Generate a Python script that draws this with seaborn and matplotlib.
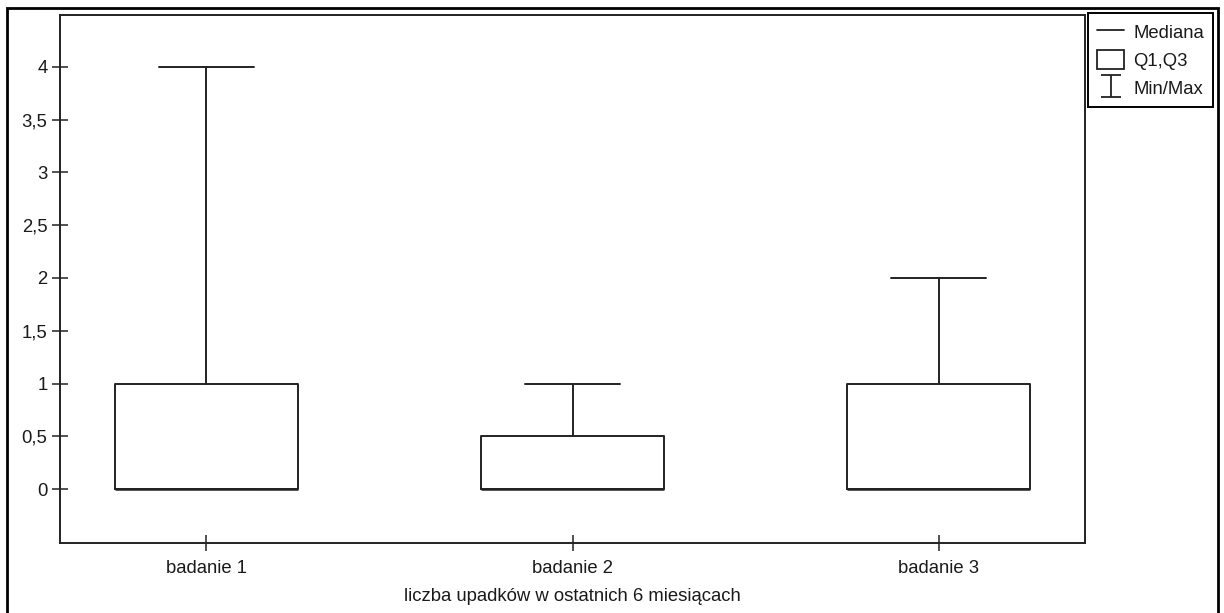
import numpy as np
import matplotlib
matplotlib.use("Agg")
import matplotlib.pyplot as plt
from matplotlib.lines import Line2D
from matplotlib.patches import Rectangle
from matplotlib.path import Path
from matplotlib.ticker import FuncFormatter
import seaborn as sns

# Summary statistics of the number of falls per examination
categories = ["badanie 1", "badanie 2", "badanie 3"]
mins = [0, 0, 0]
q1s = [0, 0, 0]
medians = [0, 0, 0]
q3s = [1, 0.5, 1]
maxs = [4, 1, 2]
y_ticks = [0, 0.5, 1, 1.5, 2, 2.5, 3, 3.5, 4]
x_label = "liczba upadków w ostatnich 6 miesiącach"
legend_labels = ["Mediana", "Q1,Q3", "Min/Max"]

sns.set_theme(style="white")
plt.rcParams["font.family"] = ["Liberation Sans", "DejaVu Sans"]

ink = "#222222"
txt = "#1a1a1a"
fs = 13.3
W, H = 1224, 613
fig = plt.figure(figsize=(W / 100, H / 100), dpi=100)
ax = fig.add_axes([60 / W, 1 - 543 / H, (1085 - 60) / W, (543 - 15) / H])

stats = [
    dict(label=c, whislo=lo, q1=a, med=m, q3=b, whishi=hi, fliers=[])
    for c, lo, a, m, b, hi in zip(categories, mins, q1s, medians, q3s, maxs)
]
ax.bxp(
    stats,
    positions=np.arange(len(categories)),
    widths=0.5,
    showfliers=False,
    patch_artist=False,
    boxprops=dict(color=ink, linewidth=1.4),
    medianprops=dict(color=ink, linewidth=1.8),
    whiskerprops=dict(color=ink, linewidth=1.4),
    capprops=dict(color=ink, linewidth=1.4),
    capwidths=0.26,
)

ax.set_xlim(-0.4, 2.4)
ax.set_ylim(-0.51, 4.49)
ax.set_xticks(np.arange(len(categories)))
ax.set_xticklabels(categories)
ax.set_yticks(y_ticks)
ax.yaxis.set_major_formatter(
    FuncFormatter(lambda v, _: (f"{v:g}").replace(".", ","))
)
ax.tick_params(axis="both", which="major", bottom=True, left=True,
               direction="inout", length=11, width=1.1, color=ink,
               labelsize=fs, labelcolor=txt)
ax.tick_params(axis="x", pad=7)
ax.tick_params(axis="y", pad=3.5)
ax.set_xlabel(x_label, fontsize=fs, color=txt, labelpad=8)
for s in ax.spines.values():
    s.set_visible(True)
    s.set_color(ink)
    s.set_linewidth(1.4)

# I-beam marker for the min/max legend entry
ibeam = Path(
    [(-0.45, 0.5), (0.45, 0.5), (0, 0.5), (0, -0.5), (-0.45, -0.5), (0.45, -0.5)],
    [Path.MOVETO, Path.LINETO, Path.MOVETO, Path.LINETO, Path.MOVETO, Path.LINETO],
)
handles = [
    Line2D([], [], color=ink, linewidth=1.3),
    Rectangle((0, 0), 1, 1, facecolor="white", edgecolor=ink, linewidth=1.3),
    Line2D([], [], linestyle="none", marker=ibeam, markersize=16,
           markeredgecolor=ink, markerfacecolor="none", markeredgewidth=1.3),
]
leg = fig.legend(
    handles, legend_labels,
    loc="upper left", bbox_to_anchor=(1088 / W, 1 - 13 / H),
    borderaxespad=0, fancybox=False, framealpha=1, edgecolor="black",
    fontsize=fs, handlelength=1.45, handleheight=1.15, handletextpad=0.5,
    labelspacing=0.47, borderpad=0.5,
)
for t in leg.get_texts():
    t.set_color(txt)
leg.get_frame().set_linewidth(1.4)

# Outer frame around the figure
fig.patches.append(Rectangle((7 / W, -0.05), (1218 - 7) / W, 1 - 8 / H + 0.05,
                             transform=fig.transFigure, fill=False,
                             edgecolor="black", linewidth=2))

fig.savefig("out.png", dpi=100)
